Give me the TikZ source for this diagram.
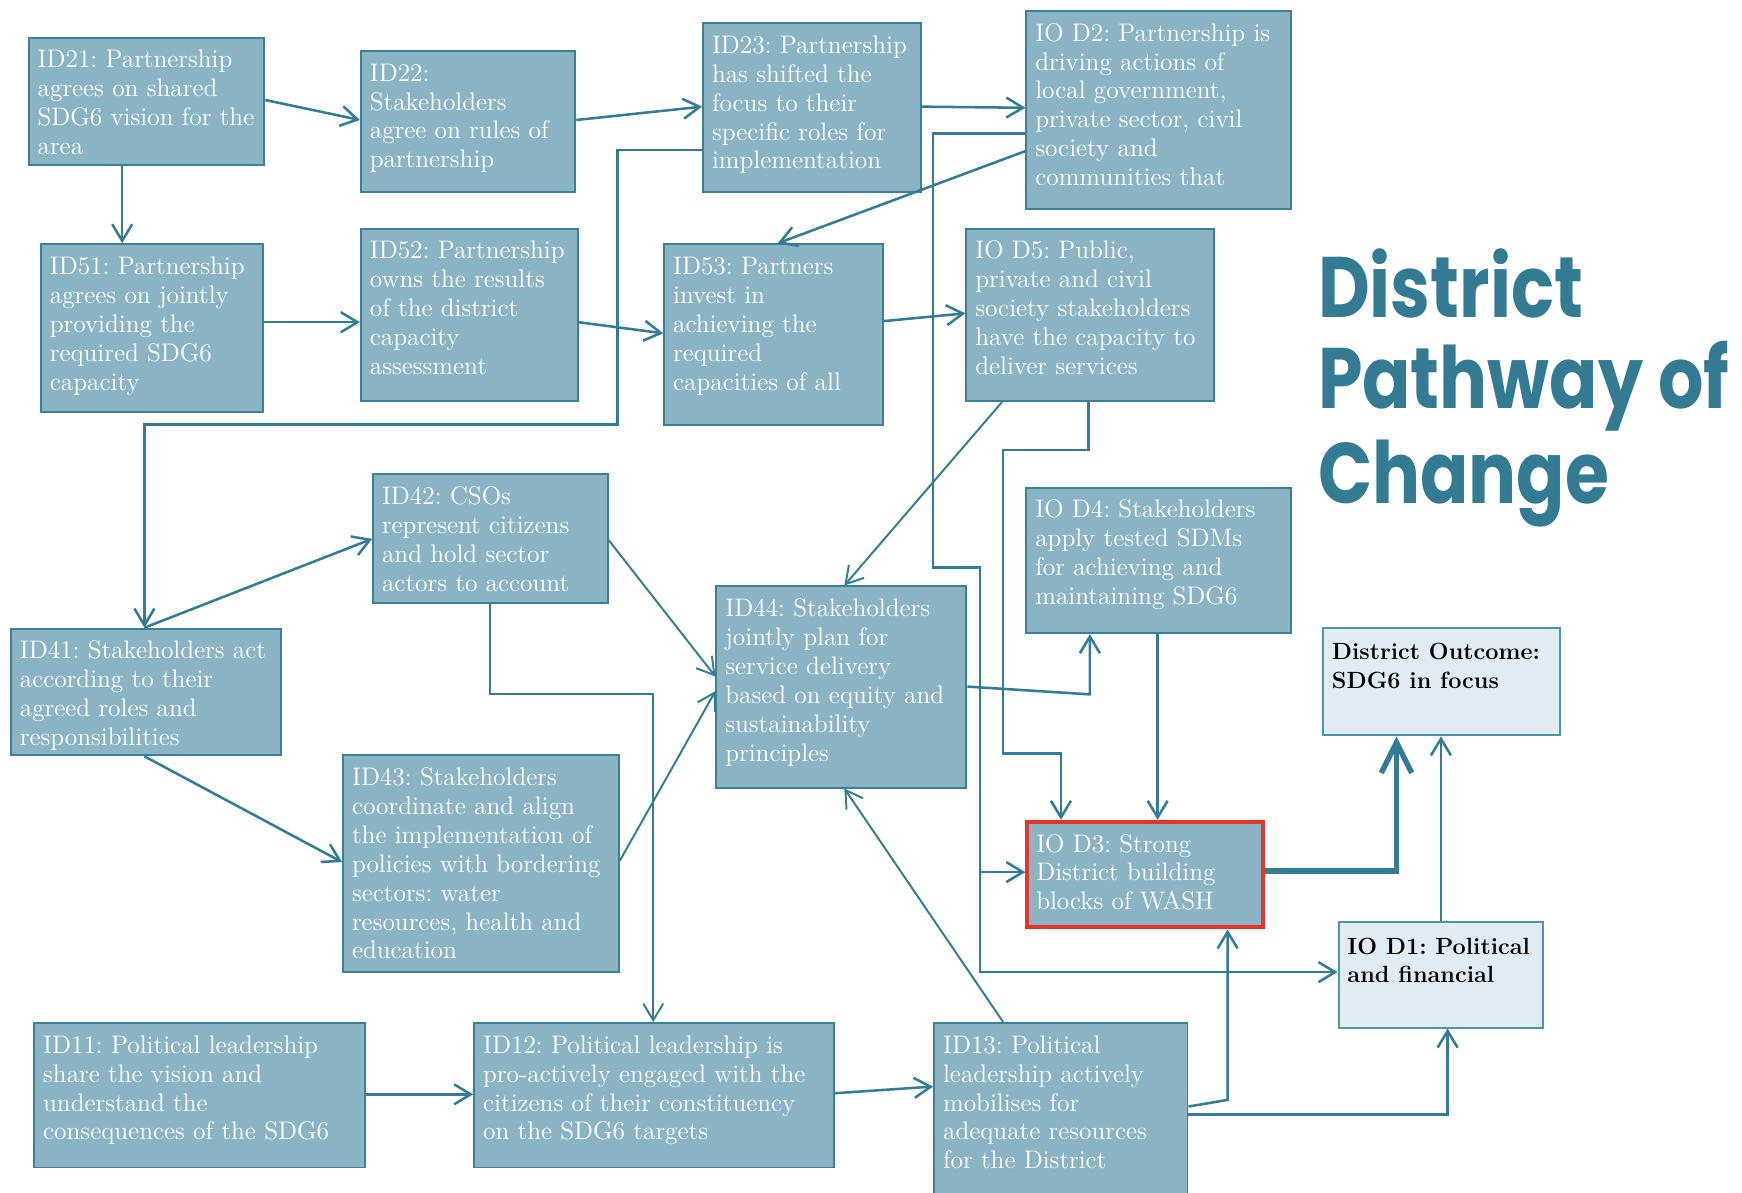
\documentclass[tikz,border=0pt]{standalone}
\usepackage{fontspec}
\newfontfamily\titlefont{Poppins}[FakeStretch=0.83]
\usetikzlibrary{arrows.meta}
\frenchspacing

\definecolor{boxfill}{RGB}{138,180,196}
\definecolor{boxline}{RGB}{58,128,152}
\definecolor{linkcol}{RGB}{52,124,148}
\definecolor{titlecol}{RGB}{50,123,146}
\definecolor{outfill}{RGB}{224,236,241}
\definecolor{outline}{RGB}{80,148,170}
\definecolor{redline}{RGB}{232,52,40}

\newlength{\pxunit}
\setlength{\pxunit}{0.02cm}
% box of given width and height (in px), text set from the top left
\newcommand{\boxtext}[3]{%
  \parbox[t][\dimexpr#2\pxunit-0.36cm\relax][t]{\dimexpr#1\pxunit-0.32cm\relax}{%
    \begin{tabular}[t]{@{}l@{}}#3\end{tabular}}}

\begin{document}
\begin{tikzpicture}[x=0.02cm, y=-0.02cm,
    >={Straight Barb[length=0.3cm,width=0.36cm]},
    pbox/.style={draw=boxline, line width=1pt, fill=boxfill, text=white, anchor=north west,
      inner xsep=0.16cm, inner ysep=0.18cm, font=\fontsize{13}{14.8}\selectfont},
    obox/.style={pbox, draw=outline, fill=outfill, text=black, inner ysep=0.22cm,
      font=\fontsize{12}{14.6}\selectfont\bfseries},
    heading/.style={anchor=base west, inner sep=0pt, text=titlecol,
      font=\titlefont\bfseries\fontsize{44}{47}\selectfont},
    link/.style={->, draw=linkcol, line width=1.3pt},
    thinlink/.style={link, line width=1pt},
    bigarrow/.style={-{Straight Barb[length=0.55cm,width=0.55cm]}, draw=linkcol, line width=2.8pt}]
  \useasboundingbox (0,0) rectangle (1568,1073);

  % partnership rows
  \node[pbox] (id21) at (25,33) {\boxtext{212}{115}{ID21: Partnership\\agrees on shared\\SDG6 vision for the\\area}};
  \node[pbox] (id22) at (324,45) {\boxtext{193}{127}{ID22:\\Stakeholders\\agree on rules of\\partnership}};
  \node[pbox] (id23) at (632,20) {\boxtext{196}{152}{ID23: Partnership\\has shifted the\\focus to their\\specific roles for\\implementation}};
  \node[pbox] (iod2) at (923,9) {\boxtext{238}{178}{IO D2: Partnership is\\driving actions of\\local government,\\private sector, civil\\society and\\communities that}};
  \node[pbox] (id51) at (36,219) {\boxtext{200}{151}{ID51: Partnership\\agrees on jointly\\providing the\\required SDG6\\capacity}};
  \node[pbox] (id52) at (324,205) {\boxtext{195}{155}{ID52: Partnership\\owns the results\\of the district\\capacity\\assessment}};
  \node[pbox] (id53) at (597,219) {\boxtext{197}{163}{ID53: Partners\\invest in\\achieving the\\required\\capacities of all}};
  \node[pbox] (iod5) at (869,205) {\boxtext{223}{155}{IO D5: Public,\\private and civil\\society stakeholders\\have the capacity to\\deliver services}};

  % stakeholder block
  \node[pbox] (id42) at (335,426) {\boxtext{211}{116}{ID42: CSOs\\represent citizens\\and hold sector\\actors to account}};
  \node[pbox] (id41) at (9,565) {\boxtext{243}{114}{ID41: Stakeholders act\\according to their\\agreed roles and\\responsibilities}};
  \node[pbox] (id43) at (308,679) {\boxtext{248}{195}{ID43: Stakeholders\\coordinate and align\\the implementation of\\policies with bordering\\sectors: water\\resources, health and\\education}};
  \node[pbox] (id44) at (644,527) {\boxtext{225}{181}{ID44: Stakeholders\\jointly plan for\\service delivery\\based on equity and\\sustainability\\principles}};
  \node[pbox] (iod4) at (923,438) {\boxtext{238}{131}{IO D4: Stakeholders\\apply tested SDMs\\for achieving and\\maintaining SDG6}};
  \node[pbox, draw=redline, line width=2pt] (iod3) at (923,738) {\boxtext{212}{95}{IO D3: Strong\\District building\\blocks of WASH}};

  % outcomes
  \node[obox] (outcome) at (1190,564) {\boxtext{213}{93}{District Outcome:\\SDG6 in focus}};
  \node[obox] (iod1) at (1204,829) {\boxtext{184}{91}{IO D1: Political\\and financial}};

  % political leadership row
  \node[pbox] (id11) at (30,920) {\boxtext{298}{130}{ID11: Political leadership\\share the vision and\\understand the\\consequences of the SDG6}};
  \node[pbox] (id12) at (426,920) {\boxtext{324}{130}{ID12: Political leadership is\\pro-actively engaged with the\\citizens of their constituency\\on the SDG6 targets}};
  \node[pbox] (id13) at (840,920) {\boxtext{228}{162}{ID13: Political\\leadership actively\\mobilises  for\\adequate resources\\for the District}};

  % title
  \foreach \word/\yy [count=\i] in {District/286, Pathway of/368, Change/453}
    \node[heading] (title\i) at (1186,\yy) {\word};

  % connectors
  \draw[link] (id21.east |- 0,90) -- (id22.west |- 0,108);
  \draw[link] (id21.south -| 110,0) -- (id51.north -| 110,0);
  \draw[link] (id22.east |- 0,108) -- (id23.west |- 0,96);
  \draw[link] (id23.east |- 0,96) -- (iod2.west |- 0,97);
  \draw[link] (id23.west |- 0,135) -| (556,382) -| (id41.north -| 130,0);
  \draw[link] (iod2.west |- 0,136) -- (id53.north -| 700,0);
  \draw[link] (iod2.west |- 0,120) -| (840,511) -| (882,875) -- (iod1.west |- 0,875);
  \draw[link] (882,785) -- (iod3.west |- 0,785);
  \draw[link] (id51.east |- 0,290) -- (id52.west |- 0,290);
  \draw[link] (id52.east |- 0,290) -- (id53.west |- 0,300);
  \draw[link] (id53.east |- 0,289) -- (iod5.west |- 0,282);
  \draw[link] (iod5.south -| 980,0) |- (903,405) |- (955,678) -- (iod3.north -| 955,0);
  \draw[thinlink] (iod5.south -| 902,0) -- (id44.north -| 760,0);
  \draw[link] (id41.north -| 130,0) -- (id42.west |- 0,485);
  \draw[link] (id41.south -| 130,0) -- (id43.west |- 0,776);
  \draw[thinlink] (id42.east |- 0,486) -- (id44.west |- 0,609);
  \draw[thinlink] (id43.east |- 0,775) -- (id44.west |- 0,622);
  \draw[thinlink] (id42.south -| 441,0) |- (588,625) -- (id12.north -| 588,0);
  \draw[link] (id44.east |- 0,618) -- (981,625) -- (iod4.south -| 981,0);
  \draw[link] (iod4.south -| 1042,0) -- (iod3.north -| 1042,0);
  \draw[bigarrow] (iod3.east |- 0,784) -| (outcome.south -| 1257,0);
  \draw[link] (iod1.north -| 1297,0) -- (outcome.south -| 1297,0);
  \draw[link] (id11.east |- 0,985) -- (id12.west |- 0,985);
  \draw[link] (id12.east |- 0,984) -- (id13.west |- 0,978);
  \draw[thinlink] (id13.north -| 903,0) -- (id44.south -| 760,0);
  \draw[link] (id13.east |- 0,996) -- (1105,990) -- (iod3.south -| 1105,0);
  \draw[link] (id13.east |- 0,1003) -| (iod1.south -| 1303,0);
\end{tikzpicture}
\end{document}
